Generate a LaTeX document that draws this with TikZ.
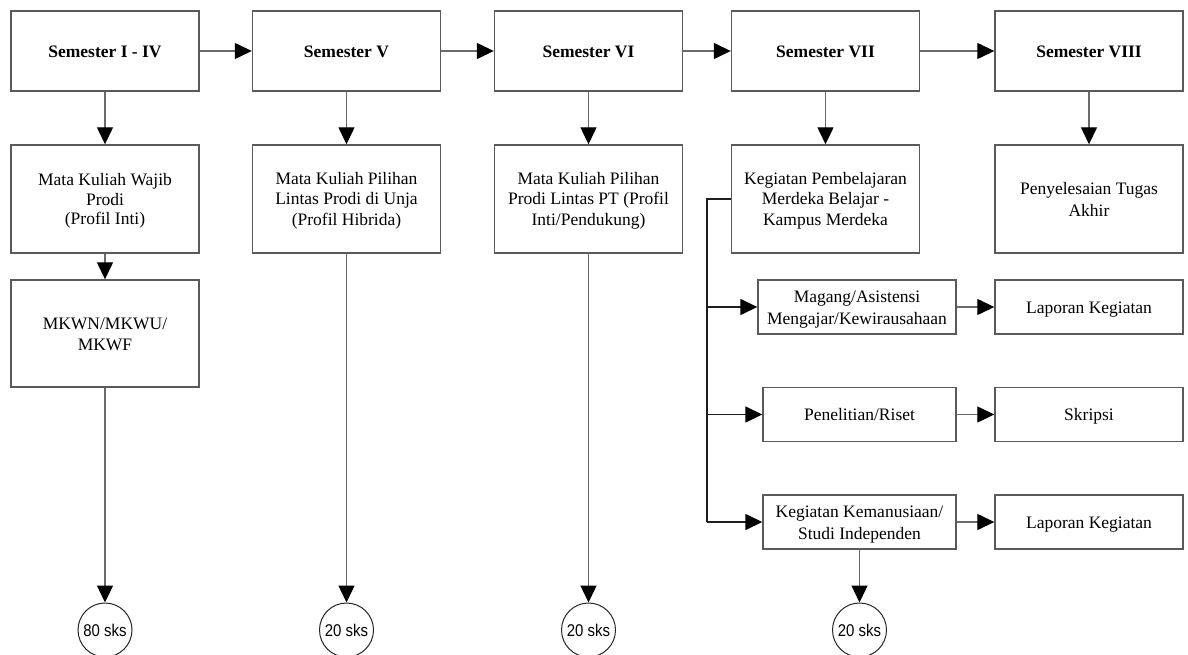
\documentclass[tikz,border=0pt]{standalone}
\usepackage{fontspec}
\setmainfont{Liberation Serif}
\newfontfamily\sksfont{Liberation Sans}
\usetikzlibrary{arrows.meta}
\definecolor{boxline}{HTML}{5A5A5A}
\definecolor{conline}{HTML}{6A6A6A}
\definecolor{branchline}{HTML}{1E1E1E}
\newcommand{\boxstrut}{\rule[-4pt]{0pt}{20.5pt}}
\tikzset{
  box/.style={draw=boxline, line width=1.4pt, fill=white, inner sep=0pt, align=flush center,
    font=\fontsize{17.5}{19.5}\selectfont,
    execute at begin node={\boxstrut}, execute at end node={\boxstrut}},
  topbox/.style={box, minimum width=188pt, text width=184pt, minimum height=80pt, font=\fontsize{17.5}{19.5}\selectfont\bfseries},
  midbox/.style={box, minimum width=188pt, text width=184pt, minimum height=108pt},
  smallbox/.style={box, minimum height=54pt},
  sksnode/.style={circle, draw=black!85, line width=1pt, fill=white, minimum size=54pt, inner sep=0pt},
  conn/.style={draw=conline, line width=1.3pt, -{Triangle[length=17pt,width=16pt,fill=black,color=black]}},
  branch/.style={draw=branchline, line width=1.5pt},
  brancharrow/.style={branch, -{Triangle[length=17pt,width=16pt,fill=black,color=black]}}
}
\newcommand{\sks}[1]{\scalebox{0.88}[1]{\sksfont\fontsize{17}{18}\selectfont #1}}
\begin{document}
\begin{tikzpicture}[x=1pt,y=-1pt]
\useasboundingbox[fill=white] (0,0) rectangle (1188,655);

% top row
\node[topbox] (s1) at (105,51) {Semester I - IV};
\node[topbox] (s2) at (346.5,51) {Semester V};
\node[topbox] (s3) at (588.5,51) {Semester VI};
\node[topbox] (s4) at (825.5,51) {Semester VII};
\node[topbox] (s5) at (1089,51) {Semester VIII};

% second row
\node[midbox] (a1) at (105,199) {Mata Kuliah Wajib\\Prodi\\(Profil Inti)};
\node[midbox] (a2) at (346.5,199) {Mata Kuliah Pilihan\\Lintas Prodi di Unja\\(Profil Hibrida)};
\node[midbox] (a3) at (588.5,199) {Mata Kuliah Pilihan\\Prodi Lintas PT (Profil\\Inti/Pendukung)};
\node[midbox] (a4) at (825.5,199) {Kegiatan Pembelajaran\\Merdeka Belajar -\\Kampus Merdeka};
\node[midbox] (a5) at (1089,199) {Penyelesaian Tugas\\Akhir};

% MKWN
\node[box, minimum width=188pt, text width=184pt, minimum height=107pt] (mk) at (105,333.5) {MKWN/MKWU/\\MKWF};

% MBKM branches
\node[smallbox, minimum width=198pt, text width=196pt] (mg) at (857,307) {Magang/Asistensi\\Mengajar/Kewirausahaan};
\node[smallbox, minimum width=188pt, text width=184pt] (l1) at (1089,307) {Laporan Kegiatan};
\node[smallbox, minimum width=193pt, text width=189pt] (pr) at (859.5,414.5) {Penelitian/Riset};
\node[smallbox, minimum width=188pt, text width=184pt] (sk) at (1089,414.5) {Skripsi};
\node[smallbox, minimum width=193pt, text width=189pt] (km) at (859.5,522) {Kegiatan Kemanusiaan/\\Studi Independen};
\node[smallbox, minimum width=188pt, text width=184pt] (l2) at (1089,522) {Laporan Kegiatan};

% circles
\node[sksnode] (c1) at (105,630) {\sks{80 sks}};
\node[sksnode] (c2) at (346.5,630) {\sks{20 sks}};
\node[sksnode] (c3) at (588.5,630) {\sks{20 sks}};
\node[sksnode] (c4) at (859.5,630) {\sks{20 sks}};

% horizontal top arrows
\draw[conn] (s1) -- (s2);
\draw[conn] (s2) -- (s3);
\draw[conn] (s3) -- (s4);
\draw[conn] (s4) -- (s5);

% down arrows
\draw[conn] (s1) -- (a1);
\draw[conn] (s2) -- (a2);
\draw[conn] (s3) -- (a3);
\draw[conn] (s4) -- (a4);
\draw[conn] (s5) -- (a5);
\draw[conn] (a1) -- (mk);
\draw[conn] (mk) -- (c1);
\draw[conn] (a2) -- (c2);
\draw[conn] (a3) -- (c3);
\draw[conn] (km) -- (c4);

% branch
\coordinate (b0) at (707,199);
\coordinate (b3) at (707,522);
\draw[branch] (a4.west) -- (b0) -- (b3);
\draw[brancharrow] (b0 |- mg.west) -- (mg.west);
\draw[brancharrow] (b0 |- pr.west) -- (pr.west);
\draw[brancharrow] (b3) -- (km.west);

% right arrows
\draw[conn] (mg) -- (l1);
\draw[conn] (pr) -- (sk);
\draw[conn] (km) -- (l2);
\end{tikzpicture}
\end{document}
